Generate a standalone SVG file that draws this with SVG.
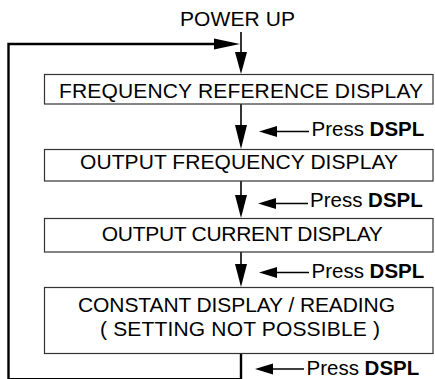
<svg xmlns="http://www.w3.org/2000/svg" width="435" height="379" viewBox="0 0 435 379">
<defs>
<style>
.box{fill:#fff;stroke:#333;stroke-width:1.2}
.t{font-family:"Liberation Sans",Arial,sans-serif;font-size:21px;fill:#000;text-anchor:middle}
.p{font-family:"Liberation Sans",Arial,sans-serif;font-size:20.5px;fill:#000}
.b{font-weight:bold}
.ln{stroke:#000;stroke-width:1.6;fill:none}
.lp{stroke:#000;stroke-width:2.4;fill:none}
.ah{fill:#000}
</style>
</defs>
<rect width="435" height="379" fill="#fff"/>
<g id="connectors">
  <path class="lp" d="M241 353 V379.2 H8.5 V44 H220"/>
  <polygon class="ah" points="240,44 214,38.5 214,49.5"/>
  <line class="ln" x1="241" y1="32" x2="241" y2="55"/>
  <polygon class="ah" points="241,74 235,52 247,52"/>
  <line class="ln" x1="241" y1="104" x2="241" y2="128"/>
  <polygon class="ah" points="241,149 235,125 247,125"/>
  <line class="ln" x1="241" y1="181" x2="241" y2="197"/>
  <polygon class="ah" points="241,218 235,195 247,195"/>
  <line class="ln" x1="241" y1="252" x2="241" y2="266"/>
  <polygon class="ah" points="241,287 235,264 247,264"/>
  <line class="ln" x1="270" y1="131.5" x2="309" y2="131.5"/>
  <polygon class="ah" points="259,131.5 277,126 277,137"/>
  <line class="ln" x1="270" y1="203.5" x2="308" y2="203.5"/>
  <polygon class="ah" points="258,203.5 276,198 276,209"/>
  <line class="ln" x1="270" y1="272.5" x2="309" y2="272.5"/>
  <polygon class="ah" points="259,272.5 277,267 277,278"/>
  <line class="ln" x1="266" y1="369" x2="304" y2="369"/>
  <polygon class="ah" points="255,369 273,363.5 273,374.5"/>
</g>
<g id="power-up"><text class="t" x="237.5" y="26" textLength="115">POWER UP</text></g>
<g id="node1">
  <rect class="box" x="44.5" y="74.5" width="388.5" height="29.5"/>
  <text class="t" x="241" y="97.5" textLength="364">FREQUENCY REFERENCE DISPLAY</text>
</g>
<g id="node2">
  <rect class="box" x="44.5" y="149.5" width="388.5" height="31.5"/>
  <text class="t" x="239" y="168.5" textLength="318">OUTPUT FREQUENCY DISPLAY</text>
</g>
<g id="node3">
  <rect class="box" x="44.5" y="218.5" width="388.5" height="33.5"/>
  <text class="t" x="242.3" y="240.5" textLength="281">OUTPUT CURRENT DISPLAY</text>
</g>
<g id="node4">
  <rect class="box" x="44.5" y="287.5" width="388.5" height="66"/>
  <text class="t" x="236.5" y="311.5" textLength="317">CONSTANT DISPLAY / READING</text>
  <text class="t" x="240" y="335.5" textLength="280">( SETTING NOT POSSIBLE )</text>
</g>
<g id="labels">
  <text class="p" x="311.5" y="136">Press <tspan class="b">DSPL</tspan></text>
  <text class="p" x="310" y="207">Press <tspan class="b">DSPL</tspan></text>
  <text class="p" x="311.5" y="277.5">Press <tspan class="b">DSPL</tspan></text>
  <text class="p" x="306.5" y="375">Press <tspan class="b">DSPL</tspan></text>
</g>
</svg>
